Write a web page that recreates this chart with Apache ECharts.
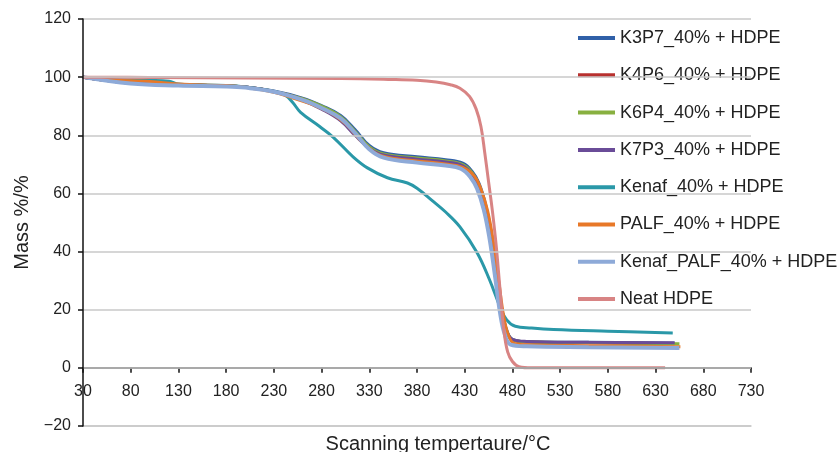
<!DOCTYPE html>
<html><head><meta charset="utf-8">
<script src="https://cdn.jsdelivr.net/npm/echarts@6/dist/echarts.min.js"></script>
<style>html,body{margin:0;padding:0;background:#fff}#c{width:839px;height:452px}</style>
</head><body><div id="c"></div>
<script>
const seriesNames = ['K3P7_40% + HDPE','K4P6_40% + HDPE','K6P4_40% + HDPE','K7P3_40% + HDPE','Kenaf_40% + HDPE','PALF_40% + HDPE','Kenaf_PALF_40% + HDPE','Neat HDPE'];
const seriesColors = ['#3060a8','#b8302e','#88b040','#6a4c98','#2a98a8','#e87828','#8eaad8','#d88484'];
const xTicks = [30,80,130,180,230,280,330,380,430,480,530,580,630,680,730];
const yTicks = [-20,0,20,40,60,80,100,120];

const k3p7 = [[30,100],[80,98],[130,97.4],[180,97],[200,96.6],[230,95.2],[260,92.8],[280,90.2],[300,86.8],[315,82],[330,76.5],[345,74],[380,72.6],[410,71.6],[428,70.4],[438,67.5],[445,63.5],[452,56],[458,46],[464,32],[469,20],[474,13],[480,9.8],[495,9],[560,8.8],[650,8.5]];
const k4p6 = [[30,100],[80,98],[130,97.4],[180,97],[200,96.6],[230,95.1],[260,92.5],[280,89.8],[300,86],[315,81],[330,75.8],[345,73.3],[380,72],[410,71],[428,69.7],[438,66.8],[445,62.5],[452,55],[458,45],[464,31],[469,19],[474,12.5],[480,9.6],[495,8.9],[560,8.6],[650,8.3]];
const k6p4 = [[30,100],[80,98],[130,97.4],[180,97],[200,96.6],[230,95.1],[260,92.6],[280,90],[300,86.4],[315,81.4],[330,76],[345,73.6],[380,72.2],[410,71.2],[428,69.9],[438,67],[445,62.8],[452,55.4],[458,45.5],[464,31.5],[469,19.5],[474,12.8],[480,9.7],[495,9],[560,8.7],[655,8.3]];
const k7p3 = [[30,100],[80,98],[130,97.4],[180,97],[200,96.6],[230,95],[260,92],[280,89],[300,85],[315,80],[330,75.5],[345,73.2],[380,71.8],[410,70.8],[428,69.5],[438,66.5],[445,62.2],[452,54.8],[458,44.8],[464,31],[469,19],[474,12.5],[480,9.8],[495,9.1],[560,8.8],[650,8.6]];
const kenaf = [[30,100],[60,99.2],[100,98.9],[120,98.6],[130,97.6],[180,97.1],[200,96.6],[230,95.1],[242,93.8],[250,91.2],[258,87.9],[278,83],[292,79.4],[313,72.6],[328,68.8],[349,65.4],[370,63.6],[380,61.8],[395,57.8],[410,53.6],[425,48.5],[443,39.6],[456,30.3],[467,21],[474,16.5],[483,14.3],[500,13.7],[523,13.2],[580,12.6],[648,12]];
const palf = [[30,100],[60,99],[100,98.5],[130,97.6],[180,97.1],[200,96.5],[230,94.8],[250,92.8],[270,90.6],[290,87.6],[305,84],[320,78.6],[335,74.2],[350,72.4],[380,71.2],[410,70.1],[428,69],[440,66],[447,61.5],[454,54],[460,43.5],[466,29],[471,17.5],[476,11],[482,8.4],[500,7.9],[560,7.6],[656,7.3]];
const kenafPalf = [[30,100],[80,97.8],[130,97.1],[180,96.8],[200,96.4],[230,95],[260,92.2],[280,89.4],[300,85.8],[315,80.8],[330,75.2],[345,72.3],[380,70.6],[410,69.6],[426,68.5],[436,65.6],[443,61.6],[450,54.4],[456,44.5],[462,31],[467,19],[472,11.5],[478,8],[495,7.4],[560,7.1],[655,6.8]];
const neat = [[30,100],[100,99.9],[200,99.7],[300,99.5],[350,99.2],[380,98.9],[400,98.3],[415,97.4],[425,96.2],[435,93.4],[442,89],[447,83],[451,74],[455,64],[459,54],[463,42],[467,27],[471,13],[475,5.5],[480,2.2],[487,0.4],[500,0],[640,0]];

const allData = [k3p7,k4p6,k6p4,k7p3,kenaf,palf,kenafPalf,neat];
const FONT = '"Liberation Sans", Arial, Helvetica, sans-serif';

const chart = echarts.init(document.getElementById('c'), null, {renderer:'canvas'});
chart.setOption({
  animation:false,
  backgroundColor:'#fff',
  textStyle:{fontFamily:FONT},
  grid:{left:83,right:88,top:19,bottom:26,containLabel:false,outerBoundsMode:'none'},
  legend:{
    orient:'vertical', left:573, top:23,
    icon:'rect', itemWidth:37, itemHeight:4, itemGap:17.3, itemTextGap:10,
    textStyle:{fontSize:18, color:'#222', fontFamily:FONT, lineHeight:20},
    data:seriesNames
  },
  xAxis:[{
    type:'value', min:xTicks[0], max:xTicks[xTicks.length-1], interval:50,
    name:'Scanning tempertaure/°C', nameLocation:'middle', nameGap:8, nameMoveOverlap:false,
    nameTextStyle:{fontSize:20, color:'#222', fontFamily:FONT, padding:[0,0,0,42]},
    axisLine:{onZero:true, lineStyle:{color:'#111', width:1.5}},
    axisTick:{show:true, length:5, lineStyle:{color:'#111', width:1.5}},
    axisLabel:{fontSize:16, color:'#222', margin:-42, fontFamily:FONT},
    splitLine:{show:false}, z:5
  },{
    type:'value', position:'bottom', min:xTicks[0], max:xTicks[xTicks.length-1], interval:50,
    axisLine:{show:true, onZero:false, lineStyle:{color:'#c8c8c8', width:1.5}},
    axisTick:{show:false}, axisLabel:{show:false}, splitLine:{show:false}, z:1
  }],
  yAxis:{
    type:'value', min:yTicks[0], max:yTicks[yTicks.length-1], interval:20,
    name:'Mass %/%', nameLocation:'middle', nameGap:51,
    nameTextStyle:{fontSize:20, color:'#222', fontFamily:FONT},
    axisLine:{show:true, lineStyle:{color:'#111', width:1.5}},
    axisTick:{show:true, length:5, lineStyle:{color:'#111', width:1.5}},
    axisLabel:{fontSize:16, color:'#222', margin:12, fontFamily:FONT,
      formatter:v=>String(v).replace('-','\u2212')},
    splitLine:{show:true, showMinLine:true, showMaxLine:true, lineStyle:{color:'#c8c8c8', width:1.5}},
    z:6
  },
  series: seriesNames.map((n,i)=>({
    name:n, type:'line', xAxisIndex:0, data:allData[i], smooth:0.4, showSymbol:false,
    lineStyle:{width: i===6 ? 4 : 3, color:seriesColors[i]},
    itemStyle:{color:seriesColors[i]}
  }))
});
</script></body></html>
